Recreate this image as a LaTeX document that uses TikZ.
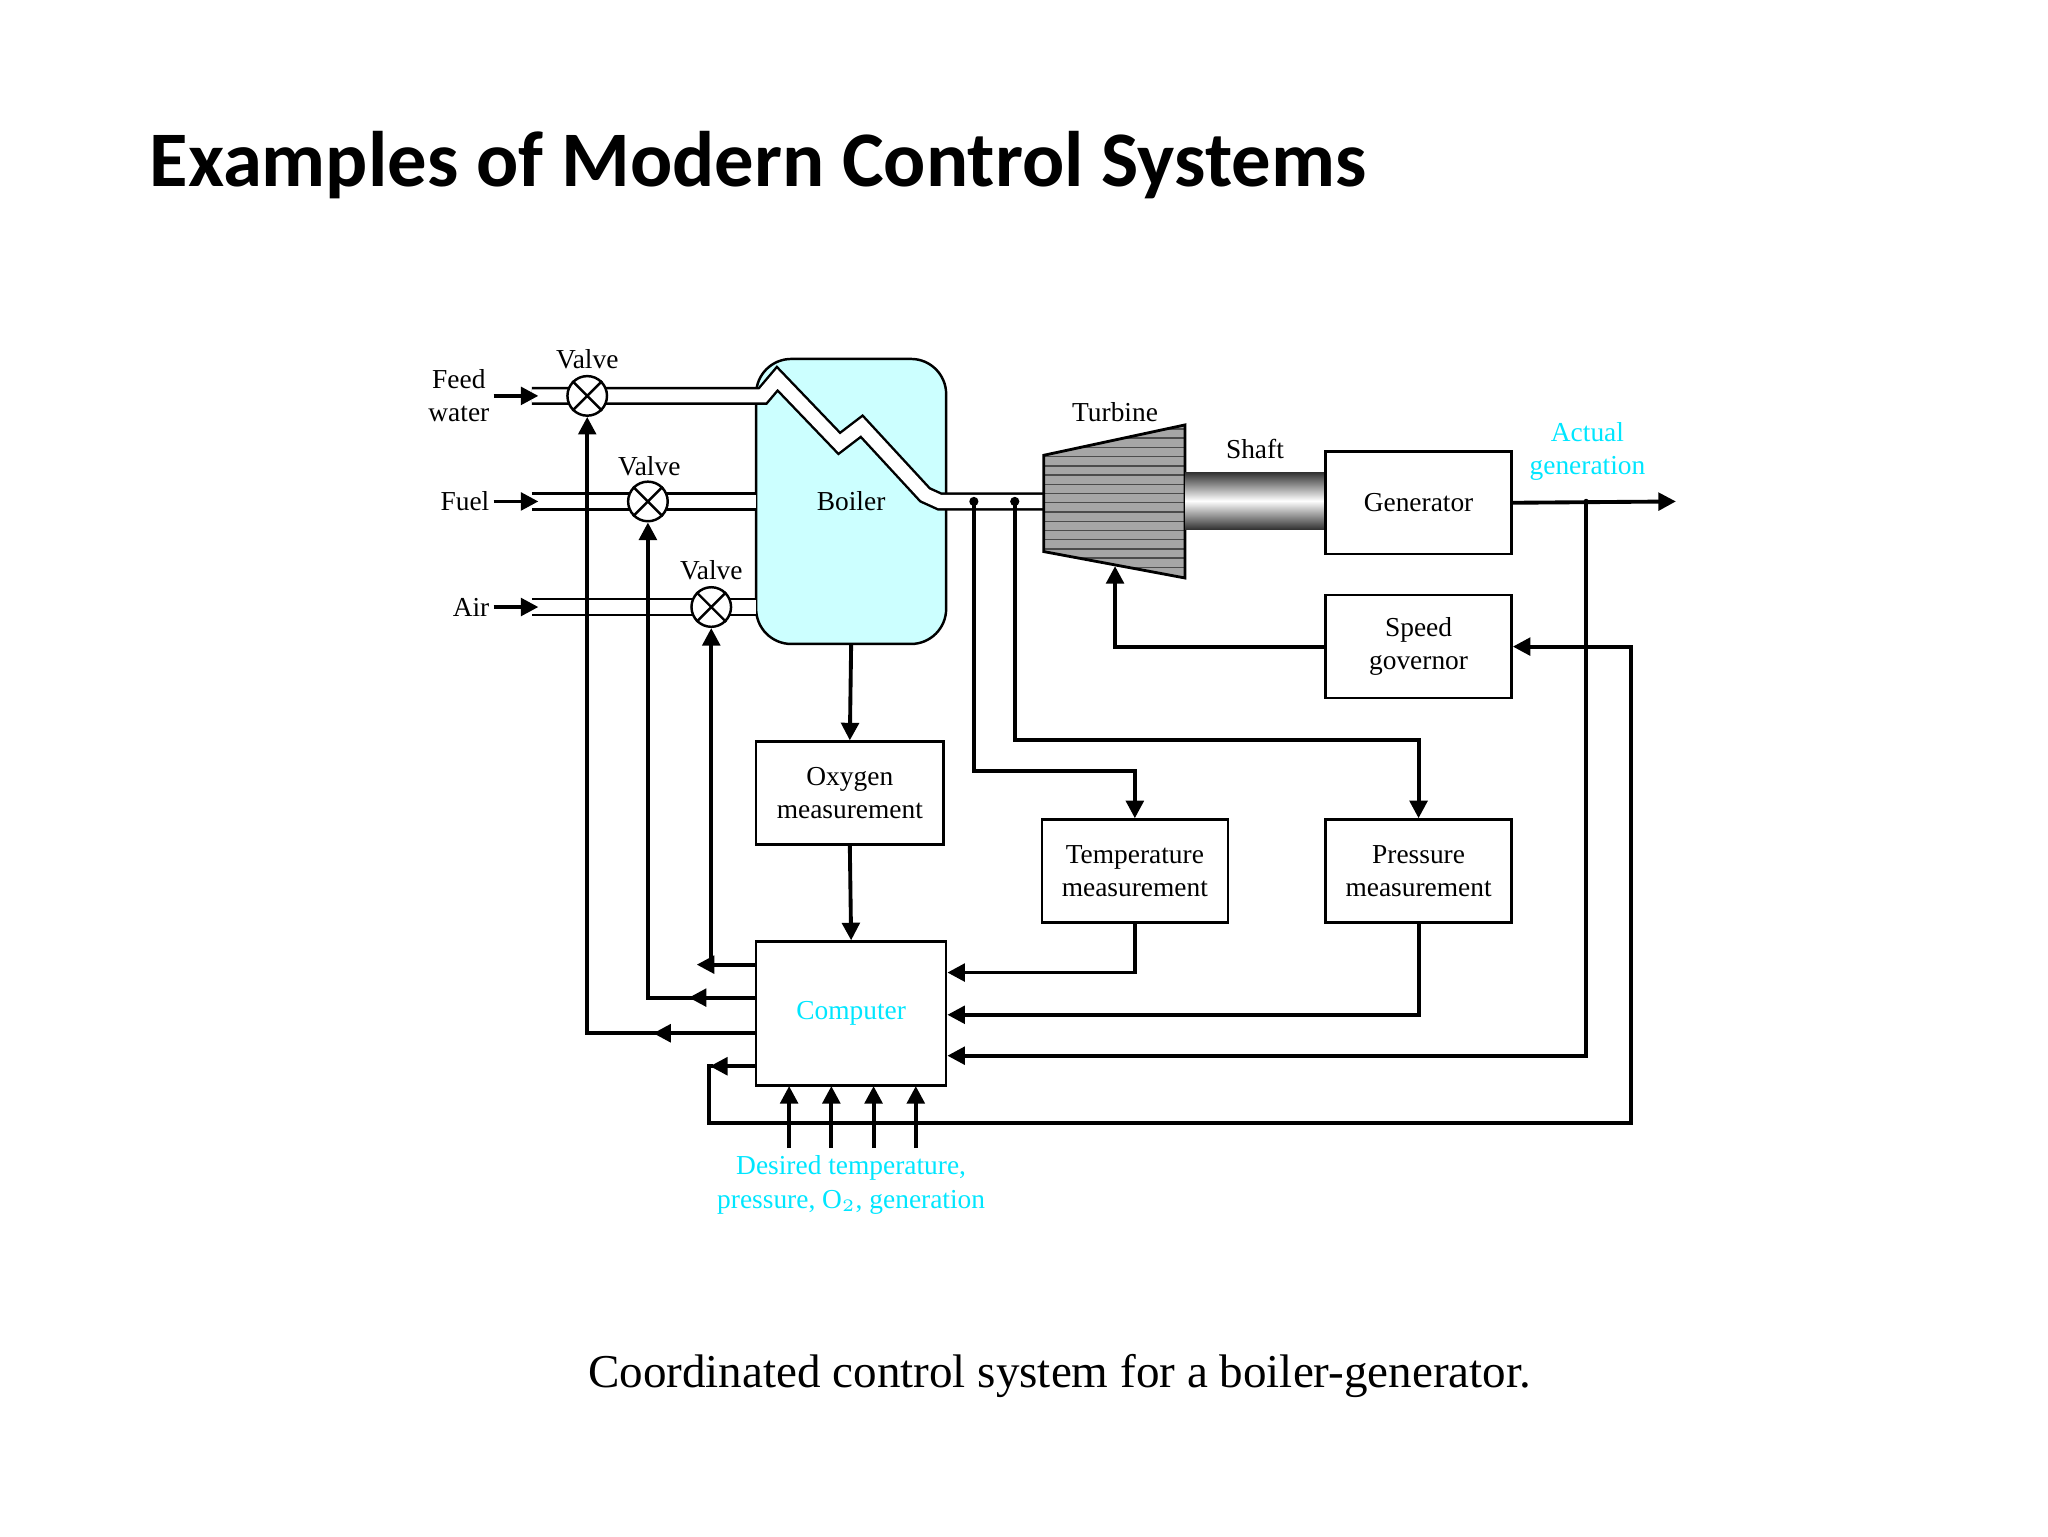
\documentclass[tikz,border=0pt]{standalone}
\usepackage{fontspec}
\setmainfont{Liberation Serif}
\newfontfamily\titlefont{Carlito}
\usetikzlibrary{arrows.meta}
\definecolor{cy}{RGB}{0,230,255}
\definecolor{boil}{RGB}{204,255,255}
\begin{document}
\begin{tikzpicture}[x=0.013196cm,y=-0.013196cm,
  ln/.style={line width=1.1pt},
  arr/.style={line width=1.1pt,-{Triangle[length=5pt,width=5pt]}},
  box/.style={draw,line width=0.7pt,minimum width=141*0.013196cm,minimum height=78*0.013196cm,align=center,font=\fontsize{7.8}{9.5}\selectfont,inner sep=0pt},
  lab/.style={font=\fontsize{7.8}{9.5}\selectfont,align=center,inner sep=1pt},
  pipe/.style={double=white,double distance=10*0.013196cm,line width=0.7pt},
  valve/.style={circle,draw,fill=white,line width=0.7pt,minimum size=30*0.013196cm,inner sep=0pt}]
\useasboundingbox (0,0) rectangle (1552,1164);
\node[anchor=west,font=\titlefont\bfseries\fontsize{22.4}{26}\selectfont] (title) at (104,125) {Examples of Modern Control Systems};
% boiler
\node[draw,line width=0.7pt,fill=boil,rounded corners=10pt,minimum width=144*0.013196cm,minimum height=216*0.013196cm] (boiler) at (645,380) {};
\node[lab] (boilerl) at (645,380) {Boiler};
% pipes
\draw[pipe] (403,300) -- (578,300) -- (589,287) -- (636,336) -- (653,323) -- (701,375) -- (712,380) -- (795,380);
\draw[pipe] (403,380) -- (573,380);
\draw[pipe] (403,460) -- (573,460);
% valves
\foreach \n/\x/\y in {v1/445/300,v2/491/380,v3/539/460}{
  \node[valve] (\n) at (\x,\y) {};
  \draw[line width=0.7pt] (\n.north east) -- (\n.south west) (\n.north west) -- (\n.south east);
}
\node[lab] (v1l) at (445,272) {Valve};
\node[lab] (v2l) at (492,353) {Valve};
\node[lab] (v3l) at (539,432) {Valve};
% inputs
\node[lab,anchor=east] (fw) at (374,300) {Feed\\water};
\node[lab,anchor=east] (fu) at (374,380) {Fuel};
\node[lab,anchor=east] (ai) at (374,460) {Air};
\draw[arr] (fw.east) -- (408,300);
\draw[arr] (fu.east) -- (408,380);
\draw[arr] (ai.east) -- (408,460);
% turbine
\begin{scope}
\clip (791,345) -- (898,322) -- (898,438) -- (791,418) -- cycle;
\fill[gray!70] (780,300) rectangle (900,450);
\foreach \y in {325,332,...,440} \draw[line width=0.4pt,black!70] (780,\y) -- (900,\y);
\end{scope}
\draw[line width=0.8pt] (791,345) -- (898,322) -- (898,438) -- (791,418) -- cycle;
\coordinate (turbb) at (845,429);
\node[lab] (turbl) at (845,312) {Turbine};
% shaft
\shade[top color=black!80,bottom color=black!80,middle color=white] (898,358) rectangle (1005,401);
\node[lab] (shaftl) at (951,340) {Shaft};
% boxes
\node[box] (gen) at (1075,381) {Generator};
\node[box] (gov) at (1075,490) {Speed\\governor};
\node[box,minimum width=142*0.013196cm] (oxy) at (644,601) {Oxygen\\measurement};
\node[box] (temp) at (860,660) {Temperature\\measurement};
\node[box] (pres) at (1075,660) {Pressure\\measurement};
\node[box,minimum width=144*0.013196cm,minimum height=109*0.013196cm,text=cy] (comp) at (645,768) {Computer};
\coordinate (out) at (1270,380);
\draw[arr] (gen.east) -- (out);
\node[lab,text=cy] (actl) at (1203,342) {Actual\\generation};
\draw[arr] (gov.west) -- (845,490) -- (turbb);
% steam taps
\coordinate (t1) at (738,380);
\coordinate (t2) at (769,380);
\fill (t1) circle (3.5) (t2) circle (3.5);
\draw[arr] (t1) -- (738,584) -- (860,584) -- (temp.north);
\draw[arr] (t2) -- (769,561) -- (1075,561) -- (pres.north);
\draw[arr] (boiler.south) -- (oxy.north);
\draw[arr] (oxy.south) -- (comp.north);
\draw[arr] (temp.south) -- (860,737) -- (comp.east |- 0,737);
\draw[arr] (pres.south) -- (1075,769) -- (comp.east |- 0,769);
\draw[arr] (1202,380) -- (1202,800) -- (comp.east |- 0,800);
\fill (1202,380) circle (2);
% computer outputs
\draw[arr] (comp.west |- 0,731) -- (528,731);
\draw[arr] (538,731) -- (539,731) -- (v3.south);
\draw[arr] (comp.west |- 0,756) -- (522,756);
\draw[arr] (530,756) -- (491,756) -- (v2.south);
\draw[arr] (comp.west |- 0,783) -- (495,783);
\draw[arr] (505,783) -- (445,783) -- (v1.south);
\draw[arr] (comp.west |- 0,808) -- (538,808);
\draw[arr] (540,808) -- (537,808) -- (537,851) -- (1236,851) -- (1236,490) -- (gov.east);
% desired
\foreach \x in {598,630,662,694} \draw[arr] (\x,870) -- (\x,823);
\node[lab,text=cy] (des) at (645,898) {Desired temperature,\\pressure, O$_2$, generation};
\node[font=\fontsize{13.4}{15}\selectfont] (cap) at (803,1043) {Coordinated control system for a boiler-generator.};
\end{tikzpicture}
\end{document}
